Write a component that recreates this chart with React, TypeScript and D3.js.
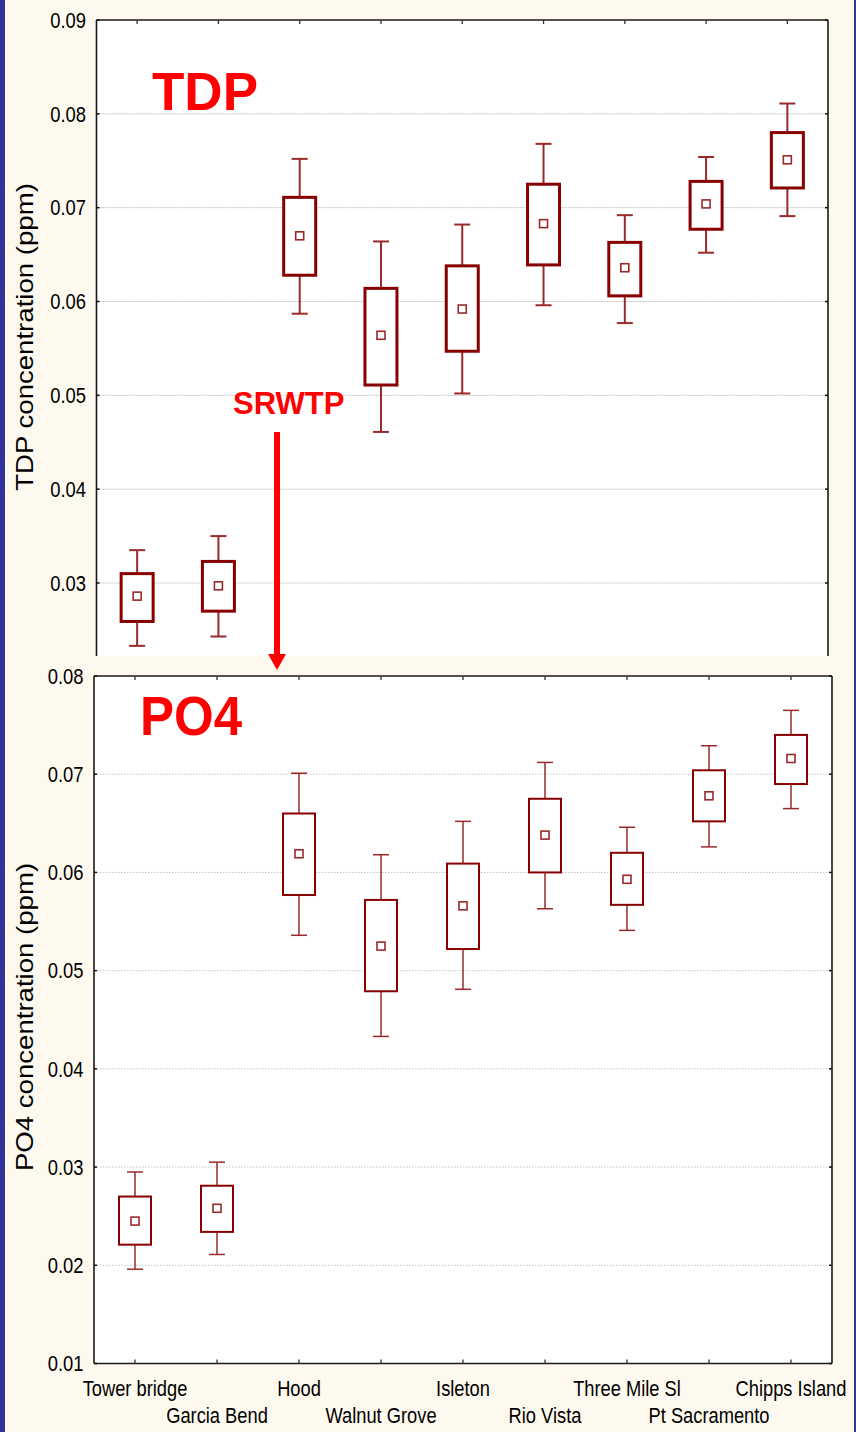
import React from 'react';
import * as d3 from 'd3';

const categories = ["Tower bridge", "Garcia Bend", "Hood", "Walnut Grove", "Isleton", "Rio Vista", "Three Mile Sl", "Pt Sacramento", "Chipps Island"];

const tdpWhiskerHigh = [0.0335, 0.0350, 0.0752, 0.0664, 0.0682, 0.0768, 0.0692, 0.0754, 0.0811];
const tdpBoxHigh = [0.0310, 0.0323, 0.0711, 0.0614, 0.0638, 0.0725, 0.0663, 0.0728, 0.0780];
const tdpMean = [0.0286, 0.0297, 0.0670, 0.0564, 0.0592, 0.0683, 0.0636, 0.0704, 0.0751];
const tdpBoxLow = [0.0259, 0.0270, 0.0628, 0.0511, 0.0547, 0.0639, 0.0606, 0.0677, 0.0721];
const tdpWhiskerLow = [0.0233, 0.0243, 0.0587, 0.0461, 0.0502, 0.0596, 0.0577, 0.0652, 0.0691];

const po4WhiskerHigh = [0.0295, 0.0305, 0.0701, 0.0618, 0.0652, 0.0712, 0.0646, 0.0729, 0.0765];
const po4BoxHigh = [0.0270, 0.0281, 0.0660, 0.0572, 0.0609, 0.0675, 0.0620, 0.0704, 0.0740];
const po4Mean = [0.0245, 0.0258, 0.0619, 0.0525, 0.0566, 0.0638, 0.0593, 0.0678, 0.0716];
const po4BoxLow = [0.0221, 0.0234, 0.0577, 0.0479, 0.0522, 0.0600, 0.0567, 0.0652, 0.0690];
const po4WhiskerLow = [0.0196, 0.0211, 0.0536, 0.0433, 0.0481, 0.0563, 0.0541, 0.0626, 0.0665];

const tdpTicks = [0.03, 0.04, 0.05, 0.06, 0.07, 0.08, 0.09];
const po4Ticks = [0.01, 0.02, 0.03, 0.04, 0.05, 0.06, 0.07, 0.08];

const W = 856;
const H = 1432;
const CREAM = '#fef9ee';
const BLUE = '#333399';
const DARKRED = '#880000';
const FONT = '"Liberation Sans", Arial, Helvetica, sans-serif';

const fmt = d3.format('.2f');

type PanelProps = {
  x0: number; x1: number; yTop: number; yBottom: number;
  domain: [number, number]; range: [number, number];
  ticks: number[];
  wHigh: number[]; bHigh: number[]; mean: number[]; bLow: number[]; wLow: number[];
  boxStroke: number; whiskerStroke: number; gridDash: string;
  title: string; titleCy: number;
  showBottom: boolean;
};

function Panel(p: PanelProps) {
  const x = d3.scalePoint<string>().domain(categories).range([p.x0, p.x1]).padding(0.5);
  const y = d3.scaleLinear().domain(p.domain).range(p.range);
  const boxW = 32;
  const capW = 16;
  const mk = 8;
  const stretch = 1.17;
  return (
    <g>
      <rect x={p.x0} y={p.yTop} width={p.x1 - p.x0} height={p.yBottom - p.yTop} fill="#ffffff" />
      {p.ticks.filter(t => y(t) > p.yTop + 2 && y(t) < p.yBottom - 2).map(t => (
        <line key={'g' + t} x1={p.x0} x2={p.x1} y1={y(t)} y2={y(t)} stroke="#c4c4c4" strokeWidth={1} strokeDasharray={p.gridDash} />
      ))}
      {categories.map((c, i) => {
        const cx = x(c) as number;
        return (
          <g key={c}>
            <line x1={cx} x2={cx} y1={y(p.wHigh[i])} y2={y(p.bHigh[i])} stroke="#9a2a2a" strokeWidth={p.whiskerStroke} />
            <line x1={cx} x2={cx} y1={y(p.bLow[i])} y2={y(p.wLow[i])} stroke="#9a2a2a" strokeWidth={p.whiskerStroke} />
            <line x1={cx - capW / 2} x2={cx + capW / 2} y1={y(p.wHigh[i])} y2={y(p.wHigh[i])} stroke="#9a2a2a" strokeWidth={p.whiskerStroke} />
            <line x1={cx - capW / 2} x2={cx + capW / 2} y1={y(p.wLow[i])} y2={y(p.wLow[i])} stroke="#9a2a2a" strokeWidth={p.whiskerStroke} />
            <rect x={cx - boxW / 2} y={y(p.bHigh[i])} width={boxW} height={y(p.bLow[i]) - y(p.bHigh[i])} fill="#ffffff" stroke={DARKRED} strokeWidth={p.boxStroke} />
            <rect x={cx - mk / 2} y={y(p.mean[i]) - mk / 2} width={mk} height={mk} fill="none" stroke="#9a2a2a" strokeWidth={1.6} />
          </g>
        );
      })}
      {/* frame */}
      <line x1={p.x0} x2={p.x0} y1={p.yTop} y2={p.yBottom} stroke="#1a1a1a" strokeWidth={1.6} />
      <line x1={p.x1} x2={p.x1} y1={p.yTop} y2={p.yBottom} stroke="#1a1a1a" strokeWidth={1.6} />
      <line x1={p.x0} x2={p.x1} y1={p.yTop} y2={p.yTop} stroke="#1a1a1a" strokeWidth={1.6} />
      {p.showBottom && <line x1={p.x0} x2={p.x1} y1={p.yBottom} y2={p.yBottom} stroke="#1a1a1a" strokeWidth={1.6} />}
      {/* category ticks */}
      {categories.map(c => (
        <line key={'tt' + c} x1={x(c) as number} x2={x(c) as number} y1={p.yTop} y2={p.yTop + 4} stroke="#333" strokeWidth={1.3} />
      ))}
      {p.showBottom && categories.map(c => (
        <line key={'tb' + c} x1={x(c) as number} x2={x(c) as number} y1={p.yBottom} y2={p.yBottom - 4} stroke="#333" strokeWidth={1.3} />
      ))}
      {/* y ticks and labels */}
      {p.ticks.map(t => (
        <g key={'yt' + t}>
          <line x1={p.x0} x2={p.x0 + 3} y1={y(t)} y2={y(t)} stroke="#111" strokeWidth={1.5} />
          <line x1={p.x1} x2={p.x1 - 3} y1={y(t)} y2={y(t)} stroke="#111" strokeWidth={1.5} />
          <text transform={`translate(${p.x0 - 10.5},${y(t)}) scale(1,${stretch})`} dy="0.36em" textAnchor="end" fontFamily={FONT} fontSize={18.4} fill="#000">{fmt(t)}</text>
        </g>
      ))}
      {p.showBottom && categories.map((c, i) => (
        <text key={'xl' + c} transform={`translate(${x(c) as number},${i % 2 === 0 ? 1396 : 1422.5}) scale(1,${stretch})`} textAnchor="middle" fontFamily={FONT} fontSize={18.3} fill="#000">{c}</text>
      ))}
      <text transform={`translate(33,${p.titleCy}) scale(1,1.2) rotate(-90)`} textAnchor="middle" fontFamily={FONT} fontSize={23} fill="#000">{p.title}</text>
    </g>
  );
}

export default function App() {
  return (
    <svg width={W} height={H} viewBox={`0 0 ${W} ${H}`} style={{ position: 'absolute', left: 0, top: 0, display: 'block' }}>
      <rect x={0} y={0} width={W} height={H} fill={CREAM} />
      <defs>
        <clipPath id="topclip"><rect x={0} y={0} width={W} height={656} /></clipPath>
      </defs>
      <g clipPath="url(#topclip)">
        <Panel x0={96.5} x1={828} yTop={20} yBottom={700} domain={[0.03, 0.09]} range={[583, 20]} ticks={tdpTicks}
          wHigh={tdpWhiskerHigh} bHigh={tdpBoxHigh} mean={tdpMean} bLow={tdpBoxLow} wLow={tdpWhiskerLow}
          boxStroke={3} whiskerStroke={2} gridDash="2,1" title="TDP concentration (ppm)" titleCy={337} showBottom={false} />
      </g>
      <rect x={0} y={656} width={W} height={H - 656} fill={CREAM} />
      <Panel x0={94} x1={832} yTop={676} yBottom={1363.5} domain={[0.01, 0.08]} range={[1363.5, 676]} ticks={po4Ticks}
        wHigh={po4WhiskerHigh} bHigh={po4BoxHigh} mean={po4Mean} bLow={po4BoxLow} wLow={po4WhiskerLow}
        boxStroke={2} whiskerStroke={1.5} gridDash="1.5,1.5" title="PO4 concentration (ppm)" titleCy={1017} showBottom={true} />
      {/* annotations */}
      <text x={152} y={109.5} fontFamily={FONT} fontWeight="bold" fontSize={53} fill="#ff0000">TDP</text>
      <text transform="translate(140,735) scale(1,1.08)" fontFamily={FONT} fontWeight="bold" fontSize={51} fill="#ff0000">PO4</text>
      <text x={233} y={414} fontFamily={FONT} fontWeight="bold" fontSize={31} fill="#ff0000">SRWTP</text>
      <line x1={277} x2={277} y1={432} y2={656} stroke="#ff0000" strokeWidth={6} />
      <polygon points="268,654 286,654 277,670" fill="#ff0000" />
      {/* blue borders */}
      <rect x={0} y={0} width={5} height={H} fill={BLUE} />
      <rect x={854} y={0} width={2} height={H} fill={BLUE} />
    </svg>
  );
}
